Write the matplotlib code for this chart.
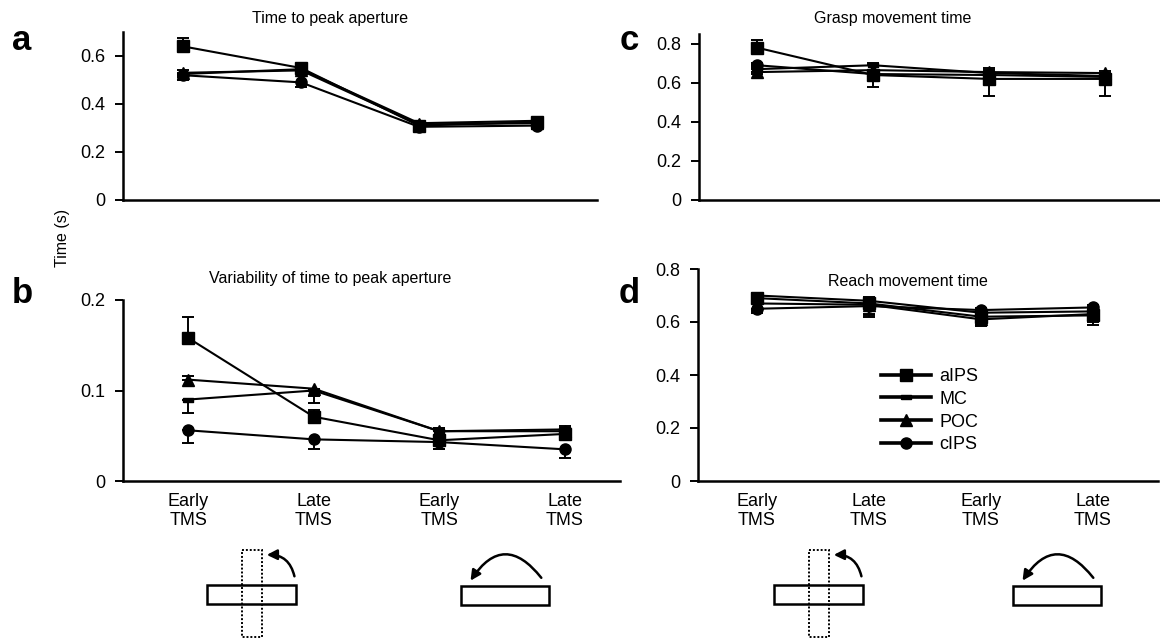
import matplotlib
matplotlib.use("Agg")
import matplotlib.pyplot as plt
import matplotlib.path as mpath
from matplotlib.patches import Rectangle, FancyArrowPatch
import numpy as np

plt.rcParams['font.family'] = ['Liberation Sans', 'DejaVu Sans']

# ---------------- data ----------------
conditions = ["Early\nTMS", "Late\nTMS", "Early\nTMS", "Late\nTMS"]
series = ["aIPS", "MC", "POC", "cIPS"]

# a: Time to peak aperture
a_means = [[0.640, 0.550, 0.310, 0.325],
           [0.525, 0.545, 0.320, 0.330],
           [0.530, 0.540, 0.315, 0.320],
           [0.520, 0.490, 0.305, 0.310]]
a_errs = [[0.035, 0.015, -0.015, 0.015],
          [-0.012, 0.012, 0.010, 0.010],
          [0.012, -0.012, -0.010, -0.010],
          [-0.020, -0.020, -0.012, -0.015]]

# b: Variability of time to peak aperture
b_means = [[0.158, 0.071, 0.045, 0.052],
           [0.090, 0.100, 0.055, 0.057],
           [0.112, 0.102, 0.055, 0.055],
           [0.056, 0.046, 0.043, 0.035]]
b_errs = [[0.023, 0.008, -0.010, 0.006],
          [-0.015, -0.014, 0.004, 0.004],
          [0.004, -0.008, 0.004, 0.004],
          [-0.014, -0.011, -0.008, -0.010]]

# c: Grasp movement time
c_means = [[0.780, 0.640, 0.620, 0.620],
           [0.670, 0.690, 0.650, 0.635],
           [0.655, 0.665, 0.655, 0.650],
           [0.690, 0.645, 0.640, 0.630]]
c_errs = [[0.040, -0.060, -0.085, -0.090],
          [0.010, 0.010, 0.025, 0.010],
          [-0.010, -0.010, 0.010, 0.010],
          [0.010, 0.010, 0.010, 0.010]]

# d: Reach movement time
d_means = [[0.690, 0.670, 0.620, 0.625],
           [0.700, 0.680, 0.635, 0.640],
           [0.670, 0.665, 0.610, 0.630],
           [0.650, 0.660, 0.645, 0.655]]
d_errs = [[0.020, -0.050, -0.030, -0.035],
          [0.010, 0.015, 0.010, 0.010],
          [-0.030, -0.040, -0.025, -0.030],
          [-0.015, -0.030, 0.008, 0.008]]

# ---------------- styles ----------------
mc_marker = mpath.Path([(-1, -0.45), (1, -0.45), (1, 0.45), (-1, 0.45), (-1, -0.45)])
markers = ['s', mc_marker, '^', 'o']
msizes = [8, 7, 8, 8]

W, H = 1160, 641
fig = plt.figure(figsize=(W / 100, H / 100), dpi=100)
TICK_FS = 13


def add_ax(left, top, right, bottom):
    return fig.add_axes([left / W, 1 - bottom / H, (right - left) / W, (bottom - top) / H])


def draw(ax, means, errs, ylim, yticks, ytl, xlim, show_x):
    x = np.arange(len(conditions))
    handles = []
    for i, name in enumerate(series):
        m = np.array(means[i])
        e = np.array(errs[i])
        lower = np.where(e < 0, -e, 0)
        upper = np.where(e > 0, e, 0)
        ax.errorbar(x, m, yerr=[lower, upper], fmt='none', ecolor='black',
                    elinewidth=1.4, capsize=4.5, capthick=1.4, zorder=2)
        h, = ax.plot(x, m, color='black', lw=1.5, marker=markers[i],
                     ms=msizes[i], mfc='black', mec='black', zorder=3, label=name)
        handles.append(h)
    ax.set_xlim(*xlim)
    ax.set_ylim(*ylim)
    ax.set_yticks(yticks)
    ax.set_yticklabels(ytl, fontsize=TICK_FS)
    ax.spines['top'].set_visible(False)
    ax.spines['right'].set_visible(False)
    ax.spines['left'].set_linewidth(1.8)
    ax.spines['bottom'].set_linewidth(1.8)
    ax.tick_params(axis='y', direction='out', length=6, width=1.4, pad=7)
    ax.tick_params(axis='x', length=0, pad=9)
    ax.set_xticks(x)
    if show_x:
        ax.set_xticklabels(conditions, fontsize=TICK_FS, linespacing=1.08)
    else:
        ax.set_xticklabels([])
    return handles


ax_a = add_ax(123, 32, 597, 200)
draw(ax_a, a_means, a_errs, (0, 0.7), [0, 0.2, 0.4, 0.6], ['0', '0.2', '0.4', '0.6'],
     (-0.51, 3.51), False)

ax_b = add_ax(123, 300, 620, 481)
draw(ax_b, b_means, b_errs, (0, 0.2), [0, 0.1, 0.2], ['0', '0.1', '0.2'],
     (-0.52, 3.44), True)

ax_c = add_ax(699, 34, 1160, 200)
draw(ax_c, c_means, c_errs, (0, 0.85), [0, 0.2, 0.4, 0.6, 0.8],
     ['0', '0.2', '0.4', '0.6', '0.8'], (-0.5, 3.47), False)

ax_d = add_ax(698, 269, 1158, 481)
hd = draw(ax_d, d_means, d_errs, (0, 0.8), [0, 0.2, 0.4, 0.6, 0.8],
          ['0', '0.2', '0.4', '0.6', '0.8'], (-0.527, 3.58), True)

leg = ax_d.legend(handles=hd, loc='upper left', bbox_to_anchor=(881 / W, 1 - 368 / H),
                  bbox_transform=fig.transFigure, frameon=False, fontsize=TICK_FS,
                  handlelength=2.75, handletextpad=0.5, labelspacing=0.32,
                  borderpad=0, borderaxespad=0)
for ln in leg.get_lines():
    ln.set_linewidth(2.6)

# titles
TFS = 11.5
fig.text(330 / W, 1 - 18 / H, "Time to peak aperture", ha='center', va='center', fontsize=TFS)
fig.text(893 / W, 1 - 18 / H, "Grasp movement time", ha='center', va='center', fontsize=TFS)
fig.text(330 / W, 1 - 279 / H, "Variability of time to peak aperture", ha='center', va='center', fontsize=TFS)
fig.text(908 / W, 1 - 281 / H, "Reach movement time", ha='center', va='center', fontsize=TFS)

# panel letters
for lab, (px, py) in zip("abcd", [(22, 40), (22, 293), (629, 40), (629, 293)]):
    fig.text(px / W, 1 - py / H, lab, ha='center', va='center', fontsize=25, fontweight='bold')

fig.text(62 / W, 1 - 238 / H, "Time (s)", rotation=90, ha='center', va='center', fontsize=11.5)

# ---------------- illustrations ----------------
ov = fig.add_axes([0, 0, 1, 1], zorder=-1)
ov.set_xlim(0, W)
ov.set_ylim(H, 0)
ov.axis('off')


def illus_rotate(x0):
    ov.add_patch(Rectangle((x0, 585), 89, 19, fill=False, lw=1.8, ec='black'))
    ov.add_patch(Rectangle((x0 + 35, 550), 20, 87, fill=False, lw=1.4, ec='black', ls=(0, (1, 1))))
    ov.add_patch(FancyArrowPatch((x0 + 88, 579), (x0 + 57, 555), connectionstyle='arc3,rad=0.45',
                                 arrowstyle='-|>', mutation_scale=15, lw=1.8, color='black'))


def illus_flip(x0):
    ov.add_patch(Rectangle((x0, 586), 88, 19, fill=False, lw=1.8, ec='black'))
    ov.add_patch(FancyArrowPatch((x0 + 82, 580), (x0 + 8, 583), connectionstyle='arc3,rad=0.72',
                                 arrowstyle='-|>', mutation_scale=15, lw=1.8, color='black'))


illus_rotate(207)
illus_flip(461)
illus_rotate(774)
illus_flip(1013)

fig.savefig("out.png", dpi=100)
